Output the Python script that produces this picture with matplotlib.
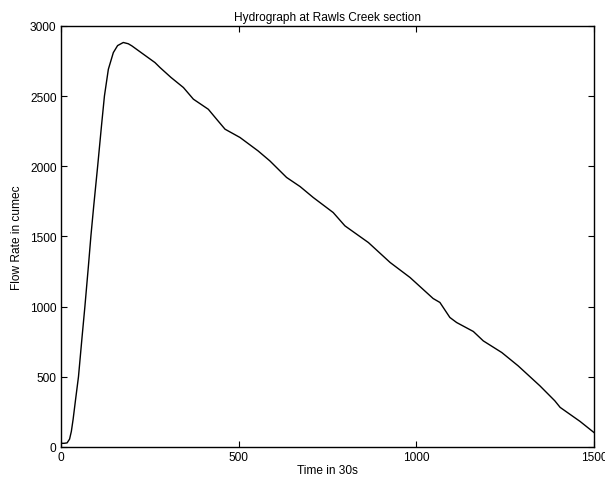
import matplotlib
matplotlib.use("Agg")
import matplotlib.pyplot as plt

# Hydrograph values
time_steps = [0, 10, 18, 25, 30, 35, 42, 50, 60, 68, 78, 85, 93, 104, 115, 123,
              134, 148, 160, 176, 190, 200, 230, 265, 279, 310, 345, 373, 415,
              440, 462, 504, 555, 588, 635, 673, 710, 766, 799, 865, 926, 982,
              1047, 1066, 1094, 1113, 1160, 1188, 1240, 1286, 1347, 1389, 1404,
              1460, 1500]
flow_rate = [25, 25, 28, 55, 110, 197, 340, 499, 780, 998, 1290, 1504, 1720,
             2002, 2296, 2501, 2691, 2810, 2860, 2882, 2873, 2858, 2803, 2739,
             2704, 2633, 2561, 2478, 2406, 2330, 2264, 2205, 2109, 2038, 1920,
             1855, 1777, 1670, 1575, 1456, 1314, 1207, 1057, 1029, 922, 886, 822,
             755, 672, 577, 435, 328, 281, 181, 100]

x_ticks = [0, 500, 1000, 1500]
y_ticks = [0, 500, 1000, 1500, 2000, 2500, 3000]

FS = 8.6
plt.rcParams['font.family'] = ['Liberation Sans', 'DejaVu Sans']
plt.rcParams['font.size'] = FS

fig = plt.figure(figsize=(6.05, 4.81), dpi=100)
ax = fig.add_axes([0.1003, 0.069, 0.8820, 0.875])

ax.plot(time_steps, flow_rate, color='black', linewidth=1.0)

ax.set_xlim(0, 1500)
ax.set_ylim(0, 3000)
ax.set_xticks(x_ticks)
ax.set_yticks(y_ticks)
ax.tick_params(direction='in', length=4, width=0.8, top=True, right=True,
               labelsize=FS, pad=3)
for spine in ax.spines.values():
    spine.set_linewidth(1.0)

ax.set_title('Hydrograph at Rawls Creek section', fontsize=FS, pad=4)
ax.set_xlabel('Time in 30s', fontsize=FS, labelpad=1)
ax.set_ylabel('Flow Rate in cumec', fontsize=FS, labelpad=5)

fig.savefig('out.png', dpi=100)
